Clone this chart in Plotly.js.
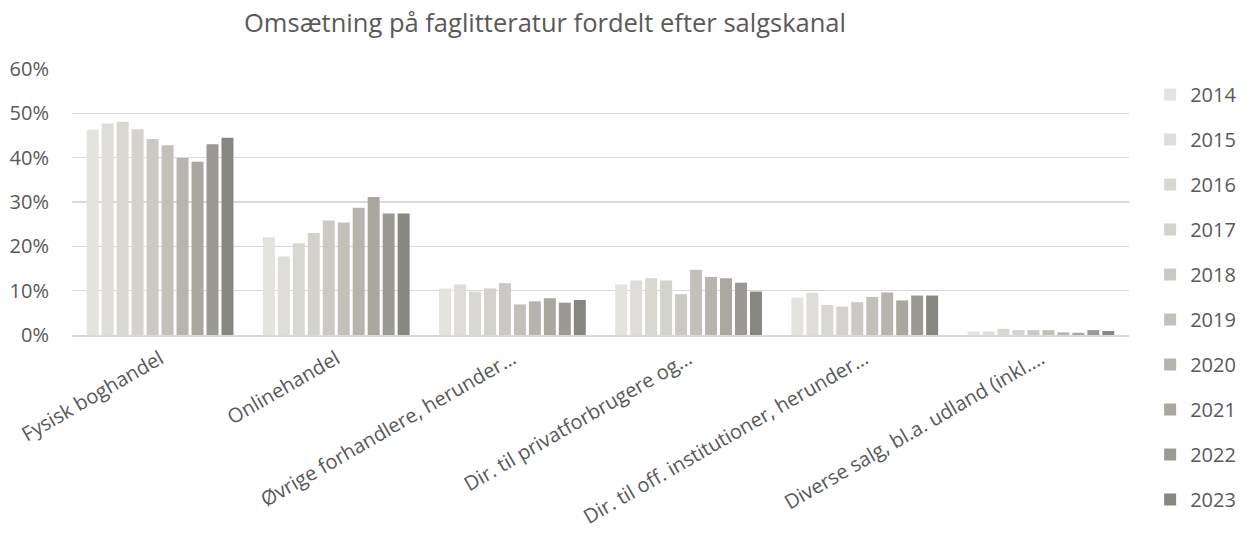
<!DOCTYPE html>
<html>
<head>
<meta charset="utf-8">
<script src="https://cdn.plot.ly/plotly-3.0.1.min.js"></script>
<style>html,body{margin:0;padding:0;background:#fff;}#chart{width:1250px;height:535px;}</style>
</head>
<body>
<div id="chart"></div>
<script>
const categories = [
  "Fysisk boghandel",
  "Onlinehandel",
  "Øvrige forhandlere, herunder…",
  "Dir. til privatforbrugere og…",
  "Dir. til off. institutioner, herunder…",
  "Diverse salg, bl.a. udland (inkl.…"
];
const years = ["2014","2015","2016","2017","2018","2019","2020","2021","2022","2023"];
const v2014 = [0.463, 0.221, 0.105, 0.114, 0.084, 0.008];
const v2015 = [0.477, 0.177, 0.114, 0.123, 0.095, 0.008];
const v2016 = [0.481, 0.207, 0.098, 0.128, 0.068, 0.014];
const v2017 = [0.464, 0.230, 0.105, 0.123, 0.064, 0.011];
const v2018 = [0.442, 0.258, 0.117, 0.092, 0.074, 0.011];
const v2019 = [0.428, 0.254, 0.069, 0.147, 0.086, 0.011];
const v2020 = [0.399, 0.287, 0.076, 0.131, 0.096, 0.006];
const v2021 = [0.391, 0.311, 0.083, 0.128, 0.078, 0.005];
const v2022 = [0.430, 0.274, 0.073, 0.118, 0.089, 0.011];
const v2023 = [0.445, 0.274, 0.079, 0.098, 0.089, 0.009];
const seriesValues = [v2014, v2015, v2016, v2017, v2018, v2019, v2020, v2021, v2022, v2023];
const colors = ["#E4E3DF","#DEDDD9","#D9D7D2","#D3D2CD","#CBC9C3","#C2C0B9","#B6B4AD","#A9A7A0","#9A9993","#878680"];

const FONT = "'Open Sans', 'Segoe UI', sans-serif";
const traces = years.map((y, i) => ({
  type: 'bar',
  name: y,
  x: categories,
  y: seriesValues[i],
  legendgroup: 'g' + i,
  marker: { color: colors[i] },
  hoverinfo: 'x+y+name'
}));

const layout = {
  width: 1250, height: 535,
  paper_bgcolor: '#ffffff', plot_bgcolor: '#ffffff',
  margin: { l: 72, r: 121, t: 69, b: 200, autoexpand: false },
  barmode: 'group',
  bargap: 0.15,
  bargroupgap: 0.2,
  font: { family: FONT, color: '#595959', size: 20 },
  title: {
    text: 'Omsætning på faglitteratur fordelt efter salgskanal',
    font: { family: FONT, size: 25.5, color: '#595959' },
    x: 0.436, xref: 'container', xanchor: 'center',
    y: 0.957, yref: 'container', yanchor: 'middle'
  },
  xaxis: {
    type: 'category',
    tickangle: -30,
    tickfont: { family: FONT, size: 20, color: '#595959' },
    showline: true, linecolor: '#D9D9D9', linewidth: 1.5,
    ticks: '', showgrid: false, automargin: false,
    ticklabelstandoff: 3
  },
  yaxis: {
    range: [0, 0.6],
    dtick: 0.1,
    tickformat: '.0%',
    tickfont: { family: FONT, size: 20, color: '#595959' },
    showgrid: true, gridcolor: '#D9D9D9', gridwidth: 1.5,
    zeroline: false, showline: false, ticks: '',
    ticklabelstandoff: 22, automargin: false
  },
  showlegend: true,
  legend: {
    x: 1.02, xanchor: 'left',
    y: 0.977, yanchor: 'top',
    traceorder: 'grouped',
    tracegroupgap: 16,
    maxheight: 600,
    font: { family: FONT, size: 20, color: '#595959' },
    bgcolor: 'rgba(0,0,0,0)'
  }
};

Plotly.newPlot('chart', traces, layout, { displayModeBar: false, staticPlot: true });
</script>
</body>
</html>
